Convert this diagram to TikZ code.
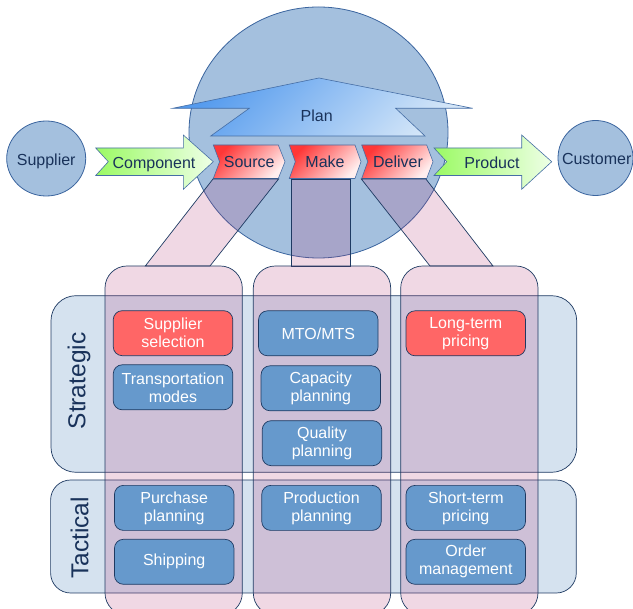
\documentclass[tikz,border=0pt]{standalone}
\usepackage{fontspec}
\setmainfont{Liberation Sans}
\usetikzlibrary{shapes.geometric}
\definecolor{navy}{RGB}{30,58,98}
\definecolor{circfill}{RGB}{164,192,222}
\definecolor{circline}{RGB}{58,100,158}
\definecolor{rowfill}{RGB}{213,226,239}
\definecolor{colpink}{RGB}{180,60,120}
\definecolor{taskblue}{RGB}{102,153,204}
\definecolor{taskred}{RGB}{255,102,102}
\definecolor{lbltext}{RGB}{25,50,90}
\definecolor{chevdark}{RGB}{255,55,55}
\definecolor{chevlight}{RGB}{255,238,238}
\definecolor{greendark}{RGB}{155,250,100}
\definecolor{greenlight}{RGB}{238,255,230}
\definecolor{plandark}{RGB}{85,155,238}
\definecolor{planlight}{RGB}{212,230,248}
\definecolor{shapeline}{RGB}{70,110,165}
\newcommand{\boxfont}{\fontsize{16}{18}\selectfont}
\newcommand{\rowfont}{\fontsize{24.5}{28}\selectfont}
\begin{document}
\begin{tikzpicture}[x=1pt,y=-1pt,
  roundshape/.style={ellipse,draw=circline,fill=circfill,line width=0.8pt,inner sep=0pt},
  lbl/.style={text=lbltext,font=\boxfont,inner sep=0pt},
  chevron/.style={draw=shapeline,line width=0.6pt,top color=chevdark,bottom color=chevlight,shading angle=45},
  greenarrow/.style={draw=shapeline,line width=0.6pt,left color=greendark,right color=greenlight},
  planarrow/.style={draw=shapeline,line width=0.6pt,top color=plandark,bottom color=planlight,shading angle=45},
  band/.style={draw=navy,line width=0.7pt,fill=colpink,fill opacity=0.2},
  rowbox/.style={draw=navy,line width=0.7pt,fill=rowfill},
  colbox/.style={draw=navy,line width=0.7pt,fill=colpink,fill opacity=0.2,rounded corners=22pt},
  task/.style={rectangle,rounded corners=9pt,draw=navy,line width=0.7pt,fill=taskblue,text=white,font=\boxfont,align=center,minimum width=119.5pt,minimum height=45pt,inner sep=0pt},
  taskr/.style={task,fill=taskred},
  rowlabel/.style={text=lbltext,font=\rowfont,rotate=90,inner sep=0pt}
]
\useasboundingbox (0,0) rectangle (633,609);

% big plan circle
\node[roundshape,minimum width=259pt,minimum height=251pt] (bigc) at (318.5,132.5) {};

% supplier / customer
\node[roundshape,minimum width=79pt,minimum height=75pt] (sup) at (46.2,158.5) {};
\node[lbl,anchor=base] (suptxt) at (46.2,165.3) {Supplier};
\node[roundshape,minimum width=75pt,minimum height=75pt] (cus) at (595.5,158) {};
\node[lbl,anchor=base] (custxt) at (596.7,164.3) {Customer};

% plan arrow
\draw[planarrow] (172.7,108.3) -- (319,78) -- (472.7,108.3) -- (395.7,108.3) -- (425,136) -- (210.7,136) -- (249.3,108.3) -- cycle;
\node[lbl,anchor=base] (plan) at (316.7,121.5) {Plan};

% green arrows
\draw[greenarrow] (95.7,148) -- (183.3,148) -- (183.3,135) -- (213.3,161.7) -- (183.3,189.3) -- (183.3,175.5) -- (95.7,175.5) -- (108.3,161.7) -- cycle;
\node[lbl,anchor=base] (comp) at (154,168.3) {Component};
\draw[greenarrow] (434,148) -- (521.7,148) -- (521.7,135) -- (551.7,161.7) -- (521.7,189.3) -- (521.7,175.5) -- (434,175.5) -- (446.7,161.7) -- cycle;
\node[lbl,anchor=base] (prod) at (492,168.3) {Product};

% chevrons
\draw[chevron] (213.3,145) -- (278.3,145) -- (285,161.7) -- (278.3,178.5) -- (213.3,178.5) -- (219.6,161.7) -- cycle;
\node[lbl,anchor=base] (source) at (249.2,168) {Source};
\draw[chevron] (289.3,145) -- (355,145) -- (361,161.7) -- (355,178.5) -- (289.3,178.5) -- (295.3,161.7) -- cycle;
\node[lbl,anchor=base] (make) at (325,168) {Make};
\draw[chevron] (361.7,145) -- (426.7,145) -- (433,161.7) -- (426.7,178.5) -- (361.7,178.5) -- (367.7,161.7) -- cycle;
\node[lbl,anchor=base] (deliver) at (398,168) {Deliver};

% bands
\draw[band] (213,179) -- (278.6,179) -- (210,266) -- (145.3,266) -- cycle;
\draw[band] (291.5,179) rectangle (350.5,266);
\draw[band] (361.3,179) -- (425.9,179) -- (493,266) -- (430,266) -- cycle;

% rows
\draw[rowbox,rounded corners=25pt] (51,295.7) rectangle (576.7,472.3);
\draw[rowbox,rounded corners=20pt] (50.6,480) rectangle (576.3,593);
\node[rowlabel] (strat) at (79,381) {Strategic};
\node[rowlabel] (tact) at (79.5,538) {Tactical};

% columns
\draw[colbox] (105,266) rectangle (242.3,615);
\draw[colbox] (253.3,266) rectangle (390.7,615);
\draw[colbox] (400.7,266) rectangle (538,615);

% task boxes
\node[taskr] (supsel) at (173,333.2) {Supplier\\selection};
\node[task] (trans) at (173,387.3) {Transportation\\modes};
\node[task] (mto) at (318.3,333.3) {MTO/MTS};
\node[task] (cap) at (320.8,388.3) {Capacity\\planning};
\node[task] (qual) at (322,443.2) {Quality\\planning};
\node[taskr] (ltp) at (465.8,333.3) {Long-term\\pricing};
\node[task] (purch) at (174.2,507.9) {Purchase\\planning};
\node[task] (ship) at (174.2,561.8) {Shipping};
\node[task] (prodpl) at (321.5,507.9) {Production\\planning};
\node[task] (stp) at (465.8,507.9) {Short-term\\pricing};
\node[task] (order) at (465.8,561.8) {Order\\management};
\end{tikzpicture}
\end{document}
